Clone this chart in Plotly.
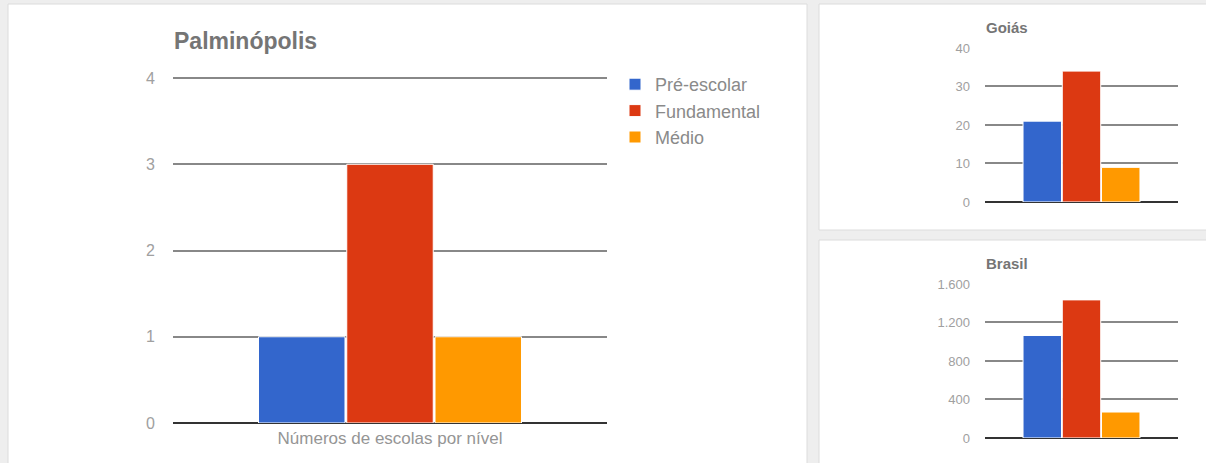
"""Escolas por nível: Palminópolis, Goiás e Brasil."""

import plotly.graph_objects as go

W, H = 1206, 463

series_names = ["Pré-escolar", "Fundamental", "Médio"]
series_colors = ["#3366cc", "#dc3912", "#ff9900"]
category = ["Números de escolas por nível"]

palminopolis_values = [1, 3, 1]
goias_values = [21, 34, 9]
brasil_values = [1065, 1435, 270]

FONT = "Arial, Liberation Sans, sans-serif"
GRID = "#888888"
TICK = "#a0a0a0"


def px(x):
    return x / W


def py(y):
    return 1 - y / H


fig = go.Figure()

for name, color, v in zip(series_names, series_colors, palminopolis_values):
    fig.add_trace(go.Bar(x=category, y=[v], name=name, marker_color=color,
                         marker_line_color="white", marker_line_width=1,
                         xaxis="x", yaxis="y"))
for name, color, v in zip(series_names, series_colors, goias_values):
    fig.add_trace(go.Bar(x=["Goiás"], y=[v], name=name, marker_color=color,
                         marker_line_color="white", marker_line_width=1,
                         showlegend=False, xaxis="x2", yaxis="y2"))
for name, color, v in zip(series_names, series_colors, brasil_values):
    fig.add_trace(go.Bar(x=["Brasil"], y=[v], name=name, marker_color=color,
                         marker_line_color="white", marker_line_width=1,
                         showlegend=False, xaxis="x3", yaxis="y3"))

panel_line = {"color": "#dcdcdc", "width": 1}
shapes = [
    dict(type="rect", xref="paper", yref="paper", x0=px(8), x1=px(807),
         y0=py(470), y1=py(4), fillcolor="white", line=panel_line, layer="below"),
    dict(type="rect", xref="paper", yref="paper", x0=px(819), x1=px(1215),
         y0=py(230), y1=py(4), fillcolor="white", line=panel_line, layer="below"),
    dict(type="rect", xref="paper", yref="paper", x0=px(819), x1=px(1215),
         y0=py(470), y1=py(240), fillcolor="white", line=panel_line, layer="below"),
]


def yaxis_style(size, standoff):
    return dict(
        showgrid=True, gridcolor=GRID, gridwidth=1.5,
        zeroline=True, zerolinecolor="#333333", zerolinewidth=2,
        tickfont=dict(family=FONT, size=size, color=TICK),
        ticklabelstandoff=standoff, fixedrange=True, automargin=False,
    )


# a hair of headroom so the top gridline is still drawn
pad = 1.006

fig.update_layout(
    width=W, height=H,
    margin=dict(l=0, r=0, t=0, b=0, autoexpand=False),
    paper_bgcolor="#eeeeee", plot_bgcolor="rgba(0,0,0,0)",
    separators=",.",
    barmode="group", bargap=0.39, bargroupgap=0.02,
    shapes=shapes,
    xaxis=dict(domain=[px(173), px(607)], showgrid=False, automargin=False,
               tickfont=dict(family=FONT, size=17, color="#959595"),
               ticklabelstandoff=3),
    yaxis=dict(domain=[py(423), py(423 - 345 * pad)], range=[0, 4 * pad], dtick=1,
               **yaxis_style(16, 17)),
    xaxis2=dict(domain=[px(985), px(1178)], showticklabels=False, showgrid=False,
                automargin=False),
    yaxis2=dict(domain=[py(202), py(202 - 154 * pad)], range=[0, 40 * pad], dtick=10,
                anchor="x2", **yaxis_style(13, 14)),
    xaxis3=dict(domain=[px(985), px(1178)], showticklabels=False, showgrid=False,
                anchor="y3", automargin=False),
    yaxis3=dict(domain=[py(438), py(438 - 154 * pad)], range=[0, 1600 * pad], dtick=400,
                anchor="x3", tickformat=",d", **yaxis_style(13, 14)),
    legend=dict(x=px(615), y=py(66), xanchor="left", yanchor="top",
                bgcolor="rgba(0,0,0,0)",
                font=dict(family=FONT, size=18, color="#8a8a8a")),
    showlegend=True,
    annotations=[
        dict(text="<b>Palminópolis</b>", x=px(172), y=py(41), xref="paper", yref="paper",
             xanchor="left", yanchor="middle", showarrow=False,
             font=dict(family=FONT, size=23, color="#757575")),
        dict(text="<b>Goiás</b>", x=px(984), y=py(27), xref="paper", yref="paper",
             xanchor="left", yanchor="middle", showarrow=False,
             font=dict(family=FONT, size=15, color="#757575")),
        dict(text="<b>Brasil</b>", x=px(984), y=py(263), xref="paper", yref="paper",
             xanchor="left", yanchor="middle", showarrow=False,
             font=dict(family=FONT, size=15, color="#757575")),
    ],
)
fig.update_xaxes(fixedrange=True)

fig.write_html("out.html", config={"displayModeBar": False},
               post_script="document.body.style.margin = '0';")
